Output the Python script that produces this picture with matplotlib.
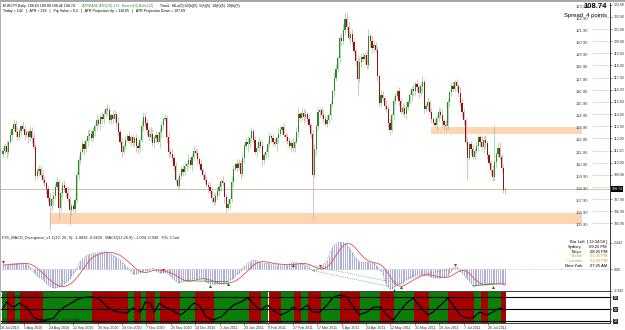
import numpy as np
import pandas as pd
import matplotlib
matplotlib.use("Agg")
import matplotlib.pyplot as plt

plt.rcParams['font.family'] = ['Liberation Sans', 'DejaVu Sans']

W, H = 625, 330

# daily closes, EURJPY
closes = [
    111.9, 112.3, 111.8, 112.6, 113.2, 113.7, 114.1, 113.4, 113.0, 113.5,
    113.9, 113.7, 113.2, 113.4, 113.0, 113.5, 112.9, 112.2, 109.8, 110.2,
    110.4, 109.9, 109.5, 109.2, 108.7, 108.0, 107.3, 107.9, 108.2, 108.9,
    109.3, 107.2, 108.4, 109.1, 108.8, 108.4, 107.9, 107.0, 107.3, 107.1,
    107.8, 109.9, 111.1, 111.8, 112.4, 112.0, 112.7, 113.1, 113.3, 112.9,
    113.5, 113.9, 114.4, 114.1, 114.7, 114.5, 114.9, 115.3, 115.2, 114.4,
    114.8, 114.5, 114.9, 114.2, 113.4, 112.6, 111.8, 112.3, 112.8, 113.1,
    112.7, 113.0, 112.5, 112.9, 112.3, 112.1, 112.8, 113.9, 114.7, 114.2,
    113.6, 113.0, 113.3, 112.5, 112.9, 113.2, 112.6, 113.4, 114.0, 114.5,
    114.6, 113.0, 111.8, 111.6, 111.3, 110.6, 109.5, 109.0, 109.8, 110.4,
    110.1, 110.6, 110.8, 111.1, 110.7, 111.4, 111.9, 111.7, 111.2, 110.8,
    110.3, 109.9, 109.5, 109.1, 108.9, 108.6, 108.0, 107.7, 108.2, 108.6,
    108.9, 109.4, 109.2, 108.1, 107.2, 107.5, 107.9, 109.3, 110.4, 110.8,
    110.5, 110.9, 110.0, 111.3, 112.3, 112.6, 112.4, 112.9, 113.5, 112.8,
    111.8, 112.1, 112.6, 112.3, 111.1, 111.5, 111.8, 112.4, 113.1, 112.9,
    112.6, 112.4, 112.9, 113.3, 113.6, 113.8, 113.2, 113.0, 112.7, 112.3,
    112.5, 112.1, 112.6, 113.4, 114.9, 114.6, 115.0, 114.7, 114.9, 114.5,
    114.0, 113.3, 109.9, 112.0, 113.9, 115.1, 115.2, 114.8, 114.5, 114.1,
    114.4, 114.8, 115.7, 116.8, 117.9, 118.6, 119.5, 121.2, 120.9, 121.8,
    122.7, 122.1, 121.2, 121.5, 120.8, 120.1, 119.3, 117.8, 119.2, 119.6,
    119.4, 119.8, 118.9, 121.3, 120.9, 120.3, 120.6, 120.2, 118.0, 115.8,
    116.5, 116.2, 115.6, 115.3, 114.2, 113.6, 114.8, 116.0, 116.4, 116.8,
    116.0, 115.1, 115.4, 114.9, 115.5, 115.9, 116.5, 117.0, 116.8, 117.4,
    117.1, 116.6, 117.2, 117.5, 115.3, 115.6, 115.9, 115.1, 114.5, 114.2,
    114.0, 114.6, 115.1, 114.8, 114.3, 114.0, 113.9, 115.9, 116.7, 117.2,
    117.0, 117.5, 117.2, 116.6, 115.8, 115.1, 114.4, 112.6, 111.3, 112.4,
    112.0, 111.4, 111.9, 112.3, 113.0, 112.6, 112.2, 112.8, 112.5, 111.5,
    110.9, 110.3, 109.7, 111.0, 111.6, 112.1, 111.4, 110.5, 108.63, 108.74,
]
first_open = 111.6
# wick lengths in 0.1 yen, one digit per bar
up_wick = ("3242325342 2432243523 3243235243 4323425332 2342432543 "
           "3242343253 2432534232 4232432543 3254232432 3242534232 "
           "3425324232 4233243523 3242342532 4323245232 3242532432 "
           "4325324232 3424325342 3234242343 4232543245 3542432543 "
           "3243254232 4325342432 3243523242 4325324232 3243524323 "
           "4232543242 3424325342 3243254232")
down_wick = ("2353242432 3242534232 4232432353 2434232542 3243252432 "
             "2432534243 3425324232 2432543234 4232432543 2542343232 "
             "3243253242 2432534324 4325324232 3242435342 2432532423 "
             "3254232432 4232432543 2432534232 3242532432 4325324234 "
             "2432543242 3242532432 4232432543 3425324232 2432534243 "
             "3243254232 4232432543 2432532423")
long_highs = {6: 114.5, 58: 115.7, 78: 115.1, 164: 115.4, 190: 123.3, 203: 121.9, 273: 114.0}
long_lows = {26: 105.4, 31: 106.2, 37: 105.75, 124: 106.8, 172: 106.3, 197: 116.5, 215: 113.2, 258: 109.5}

price_levels = [123.90, 122.90, 121.90, 120.90, 119.90, 118.90, 117.90, 116.90, 115.90, 114.90,
                113.90, 112.90, 111.90, 110.90, 109.90, 108.90, 107.90, 106.90, 105.90]
last_price = 108.74
zone_low = (105.85, 106.76, 26)     # bottom, top, first bar
zone_high = (113.26, 113.84, 238)

macd = [
    0.40, 0.42, 0.45, 0.48, 0.50, 0.53, 0.55, 0.56, 0.56, 0.55,
    0.55, 0.55, 0.54, 0.52, 0.40, 0.20, 0.02, -0.25, -0.40, -0.55,
    -0.68, -0.78, -0.90, -1.05, -1.25, -1.40, -1.52, -1.60, -1.65, -1.66,
    -1.62, -1.55, -1.50, -1.42, -1.30, -1.15, -1.00, -0.85, -0.62, -0.40,
    -0.15, 0.15, 0.45, 0.80, 0.95, 1.05, 1.18, 1.30, 1.36, 1.42,
    1.48, 1.50, 1.52, 1.54, 1.56, 1.58, 1.60, 1.60, 1.58, 1.52,
    1.42, 1.30, 1.20, 1.08, 0.95, 0.85, 0.70, 0.52, 0.35, 0.20,
    0.05, -0.15, -0.40, -0.42, -0.38, -0.32, -0.30, -0.22, -0.12, -0.10,
    -0.10, -0.02, 0.05, 0.10, 0.05, -0.10, -0.20, -0.30, -0.30, -0.28,
    -0.28, -0.30, -0.40, -0.55, -0.75, -0.90, -1.05, -1.18, -1.20, -1.15,
    -1.08, -1.02, -1.00, -0.95, -0.90, -0.86, -0.85, -0.82, -0.78, -0.75,
    -0.75, -0.85, -0.98, -1.10, -1.20, -1.28, -1.32, -1.32, -1.30, -1.30,
    -1.30, -1.30, -1.28, -1.25, -1.20, -1.10, -0.98, -0.88, -0.78, -0.62,
    -0.45, -0.28, -0.10, 0.10, 0.28, 0.42, 0.55, 0.68, 0.80, 0.85,
    0.82, 0.75, 0.70, 0.65, 0.60, 0.58, 0.56, 0.55, 0.52, 0.48,
    0.45, 0.44, 0.45, 0.46, 0.45, 0.44, 0.42, 0.40, 0.40, 0.48,
    0.58, 0.65, 0.62, 0.60, 0.58, 0.55, 0.50, 0.42, 0.35, 0.28,
    0.20, 0.05, -0.10, -0.12, -0.05, 0.02, 0.10, 0.22, 0.40, 0.62,
    0.85, 1.25, 1.65, 2.00, 2.20, 2.35, 2.45, 2.50, 2.50, 2.45,
    2.40, 2.25, 2.05, 1.80, 1.55, 1.25, 1.00, 0.82, 0.68, 0.65,
    0.65, 0.65, 0.66, 0.65, 0.62, 0.58, 0.55, 0.45, 0.25, 0.00,
    -0.10, -0.50, -1.00, -1.35, -1.62, -1.80, -1.75, -1.62, -1.50, -1.40,
    -1.35, -1.30, -1.20, -1.05, -0.92, -0.85, -0.75, -0.65, -0.55, -0.50,
    -0.45, -0.42, -0.40, -0.42, -0.48, -0.52, -0.55, -0.62, -0.70, -0.75,
    -0.76, -0.76, -0.75, -0.75, -0.72, -0.68, -0.62, -0.55, -0.35, -0.10,
    0.10, 0.18, 0.20, 0.05, -0.12, -0.30, -0.50, -0.70, -0.85, -1.05,
    -1.25, -1.50, -1.50, -1.45, -1.42, -1.40, -1.38, -1.35, -1.32, -1.30,
    -1.30, -1.30, -1.30, -1.28, -1.28, -1.30, -1.30, -1.32, -1.38, -1.42,
]
bear_div_bars = [0, 89, 176, 251]
bull_div_bars = [115, 125, 161, 217, 221, 272]
div_solid = [(101, 125), (261, 272)]
div_dotted = [(172, 217), (165, 221)]
div_red_dotted = [(226, 251)]

osc = [
    52, 60, 68, 65, 60, 57, 55, 58, 62, 65,
    63, 60, 57, 55, 50, 43, 36, 29, 26, 24,
    23, 22, 22, 21, 22, 23, 24, 25, 27, 32,
    38, 43, 47, 51, 55, 58, 60, 63, 66, 68,
    71, 74, 76, 78, 79, 80, 80, 81, 81, 81,
    81, 80, 78, 76, 73, 69, 64, 60, 55, 52,
    49, 47, 45, 44, 43, 42, 41, 41, 40, 40,
    44, 49, 53, 51, 48, 45, 42, 48, 57, 68,
    67, 66, 65, 54, 42, 50, 58, 65, 62, 58,
    55, 53, 51, 49, 47, 44, 41, 38, 35, 36,
    39, 43, 47, 51, 56, 61, 65, 64, 62, 60,
    52, 44, 36, 29, 27, 25, 23, 22, 24, 26,
    28, 29, 33, 38, 42, 47, 51, 56, 60, 62,
    64, 66, 68, 71, 73, 76, 78, 74, 70, 65,
    60, 56, 51, 47, 50, 54, 57, 60, 56, 51,
    47, 44, 41, 38, 35, 36, 38, 40, 42, 46,
    51, 55, 53, 51, 49, 47, 50, 54, 57, 60,
    55, 48, 42, 42, 42, 42, 42, 47, 51, 56,
    60, 66, 72, 78, 81, 83, 85, 86, 85, 84,
    83, 81, 74, 67, 60, 54, 47, 41, 35, 37,
    39, 40, 42, 45, 49, 52, 55, 55, 55, 55,
    55, 48, 41, 35, 31, 27, 24, 22, 28, 35,
    41, 47, 53, 59, 65, 68, 72, 75, 78, 72,
    66, 60, 55, 50, 45, 40, 35, 37, 40, 42,
    47, 51, 56, 60, 64, 69, 73, 78, 72, 66,
    60, 54, 47, 41, 35, 32, 30, 28, 27, 27,
    27, 27, 31, 35, 39, 42, 40, 38, 36, 35,
    37, 40, 42, 45, 48, 50, 52, 51, 49, 47,
]
osc_levels = [80, 50, 20]
# trend state runs: (colour, number of bars)
band_runs = [('g', 3), ('r', 4), ('g', 3), ('r', 13), ('g', 27), ('r', 20), ('g', 3), ('r', 4),
             ('g', 3), ('r', 5), ('g', 3), ('r', 11), ('g', 8), ('r', 11), ('g', 19), ('r', 7),
             ('g', 4), ('r', 7), ('g', 7), ('r', 4), ('g', 4), ('r', 7), ('g', 11), ('r', 11),
             ('g', 11), ('r', 8), ('g', 11), ('r', 8), ('g', 11), ('r', 14), ('g', 4), ('r', 4),
             ('g', 7), ('r', 3)]

date_labels = ['18 Jul 2010', '5 Aug 2010', '24 Aug 2010', '12 Sep 2010', '30 Sep 2010',
               '19 Oct 2010', '7 Nov 2010', '25 Nov 2010', '14 Dec 2010', '2 Jan 2011',
               '20 Jan 2011', '8 Feb 2011', '27 Feb 2011', '17 Mar 2011', '5 Apr 2011',
               '24 Apr 2011', '12 May 2011', '31 May 2011', '19 Jun 2011', '7 Jul 2011',
               '26 Jul 2011']
clock_rows = [('Sydney', '09:25 PM', 'black'), ('Tokyo', '08:25 PM', 'black'),
              ('* Berlin', '01:25 PM', '#c89b2a'), ('* London', '12:25 PM', '#c89b2a'),
              ('New York', '07:25 AM', 'black')]

# ---------------------------------------------------------------- data prep
n = len(closes)
x = np.arange(n)
c = np.array(closes)
o = np.r_[first_open, c[:-1]]
up = np.array([int(d) for d in up_wick.replace(" ", "")])[:n] / 10
dn = np.array([int(d) for d in down_wick.replace(" ", "")])[:n] / 10
hi = np.maximum(o, c) + up
lo = np.minimum(o, c) - dn
for k, v in long_highs.items():
    hi[k] = v
for k, v in long_lows.items():
    lo[k] = v
bull = c >= o

BAR_PX, FIRST_PX, RIGHT_PX = 1.8, 3, 610
xlim = ((0 - FIRST_PX) / BAR_PX, (RIGHT_PX - FIRST_PX) / BAR_PX)
zone_end = (582 - FIRST_PX) / BAR_PX
lbl_x = (576 - FIRST_PX) / BAR_PX
dot_x0 = (592 - FIRST_PX) / BAR_PX


def box(top_px, bot_px):
    return [0, 1 - bot_px / H, RIGHT_PX / W, (bot_px - top_px) / H]


fig = plt.figure(figsize=(W / 100, H / 100), dpi=100)
fig.patch.set_facecolor('white')
ax = fig.add_axes(box(3, 232))
ax2 = fig.add_axes(box(232, 291))
ax3 = fig.add_axes(box(292, 323))

for a in (ax, ax2, ax3):
    a.set_xlim(*xlim)
    for s in ('top', 'left'):
        a.spines[s].set_visible(False)
    a.spines['right'].set_color('#202020')
    a.spines['bottom'].set_color('#202020')
    a.spines['right'].set_linewidth(0.6)
    a.spines['bottom'].set_linewidth(0.6)
    a.yaxis.tick_right()
    a.tick_params(axis='y', labelsize=2.6, length=1.5, width=0.4, pad=1, colors='#303030')
    a.set_xticks([])

# ---------------------------------------------------------------- price panel
ax.set_ylim(105.20, 124.04)
ax.fill_between([zone_low[2], zone_end], zone_low[0], zone_low[1], color='#fdd5b1', lw=0, zorder=0)
ax.fill_between([zone_high[2], zone_end], zone_high[0], zone_high[1], color='#fdd5b1', lw=0, zorder=0)
ax.axhline(last_price, color='#cdb894', lw=0.6, zorder=1)

wick_col = np.where(bull, '#8fcf8f', '#dca0a0')
body_col = np.where(bull, '#2a8a2a', '#8b1414')
ax.vlines(x, lo, hi, colors=wick_col, lw=0.5, zorder=2)
ax.bar(x, np.maximum(np.abs(c - o), 0.04), bottom=np.minimum(o, c), width=0.62,
       color=body_col, lw=0, zorder=3)

# the level under the bid box is hidden on the axis
ax.set_yticks(price_levels)
ax.set_yticklabels(['' if abs(p - last_price) < 0.5 else '%.2f' % p for p in price_levels])
ax.hlines(price_levels, dot_x0, xlim[1], colors='#3a9a3a', lw=0.4, linestyles=':')
for p in price_levels:
    ax.text(lbl_x, p, '%.2f' % p, fontsize=3, color='#404040', va='top', ha='left')
ax.text(1.003, (last_price - 105.20) / (124.04 - 105.20), '%.2f' % last_price,
        transform=ax.transAxes, fontsize=2.6, color='white', va='center', ha='left',
        bbox=dict(boxstyle='square,pad=0.15', fc='black', ec='none'), zorder=5)

# ---------------------------------------------------------------- MACD panel
ax2.set_ylim(-1.95, 3.4)
ax2.axhline(0, color='#909090', lw=0.4, ls=':')
ax2.vlines(x, 0, macd, colors='#8a8ac8', lw=0.5)
signal = pd.Series(macd).rolling(9, min_periods=1).mean()
ax2.plot(x, macd, color='#3d7fd0', lw=0.5, ls=':')
ax2.plot(x, signal, color='#e0504a', lw=0.6)
m = np.array(macd)
for a0, a1 in div_solid:
    ax2.plot([a0, a1], [m[a0], m[a1]], color='#2a9a2a', lw=0.5)
for a0, a1 in div_dotted:
    ax2.plot([a0, a1], [m[a0], m[a1]], color='#2a9a2a', lw=0.5, ls=':')
for a0, a1 in div_red_dotted:
    ax2.plot([a0, a1], [m[a0], m[a1]], color='#d04040', lw=0.5, ls=':')
ax2.plot(bear_div_bars, m[bear_div_bars] + 0.25, 'v', color='#d02020', ms=2.2, mew=0)
ax2.plot(bull_div_bars, m[bull_div_bars] - 0.25, '^', color='#107010', ms=2.2, mew=0)
ax2.set_yticks([2.443, 0, -1.942])
ax2.set_yticklabels(['2.443', '0.00', '-1.942'])
ax2.text(0.004, 0.90, 'FX5_MACD_Divergence_v1.1(12, 26, 9): -1.0836 -0.9400   '
         'MACD(12,26,9): -1.004 -0.940   FXL Clock',
         transform=ax2.transAxes, fontsize=2.8, color='#202020', va='center')

# ---------------------------------------------------------------- trend panel
ax3.set_ylim(14, 94)
start = 0
for col, cnt in band_runs:
    ax3.axvspan(start - 0.5, start + cnt - 0.5, color='#0a800a' if col == 'g' else '#a80000',
                lw=0, zorder=0)
    start += cnt
for lv in osc_levels:
    ax3.axhline(lv, color='black', lw=0.8, zorder=2)
ax3.plot(x, osc, color='black', lw=0.9, zorder=3)
ax3.set_yticks(osc_levels)
ax3.set_yticklabels([str(v) for v in osc_levels])
ax3.tick_params(axis='y', labelsize=2.6)
for lab in ax3.get_yticklabels():
    lab.set_bbox(dict(boxstyle='square,pad=0.1', fc='#303030', ec='none'))
    lab.set_color('white')
ax3.text(0.004, 0.88, 'FXL_Trend(8,2): 50.00', transform=ax3.transAxes, fontsize=2.6,
         color='#202020', va='center')
ax3.text(0.004, 0.10, 'FXL_Trigger_Stochastic(8,3,3)  FXL_Trend_Filter', transform=ax3.transAxes,
         fontsize=2.6, color='#202020', va='center')

date_pos = (np.arange(len(date_labels)) * 24.4 - FIRST_PX) / BAR_PX
ax3.set_xticks(date_pos)
ax3.set_xticklabels(date_labels, fontsize=2.6, ha='left')
ax3.tick_params(axis='x', length=1.5, width=0.4, pad=0.8, colors='#303030')

# ---------------------------------------------------------------- header / overlays
fig.patches.append(plt.Rectangle((0, 1 - 2 / H), 1, 2 / H, transform=fig.transFigure,
                                 color='#a8a8a8', lw=0))
fig.patches.append(plt.Rectangle((0, 0), 1.2 / W, 1, transform=fig.transFigure,
                                 color='#b0b0b0', lw=0))
hy1, hy2 = 1 - 5.5 / H, 1 - 11 / H
fs_head = 2.6
fig.text(3 / W, hy1, 'EURJPY,Daily  108.63 109.08 108.46 108.74', fontsize=fs_head, va='center')
fig.text(82 / W, hy1, 'ATRBASE ATR(14) 219', fontsize=fs_head, va='center', color='#2a9a2a')
fig.text(122 / W, hy1, 'Bears(13) Bulls(13)', fontsize=fs_head, va='center', color='#2a9a2a')
fig.text(160 / W, hy1, 'TimeL  HiLo(5) 40(h)(5)  5(h)(5)  10(h)(5)  20(h)(5)', fontsize=fs_head,
         va='center')
fig.text(3 / W, hy2, 'Today = 142   |   ATR = 219   |   Pip Value = 9.2   |   '
         'ATR Projection Up = 110.65   |   ATR Projection Down = 107.69', fontsize=fs_head,
         va='center')
fig.text(607 / W, 1 - 7 / H, '%.2f' % last_price, fontsize=5.5, fontweight='bold', ha='right',
         va='center')
fig.text(607 / W, 1 - 15 / H, 'Spread  4 points', fontsize=4.2, ha='right', va='center')

fig.text(607 / W, 1 - 242 / H, 'Bar Left  [ 12:34:58 ]', fontsize=3, ha='right', va='center')
for i, (city, t, col) in enumerate(clock_rows):
    yy = 1 - (247 + 4.7 * i) / H
    fig.text(582 / W, yy, city, fontsize=3, ha='right', va='center', color=col)
    fig.text(607 / W, yy, t, fontsize=3, ha='right', va='center', color=col)

fig.savefig('out.png', dpi=100, facecolor='white')
